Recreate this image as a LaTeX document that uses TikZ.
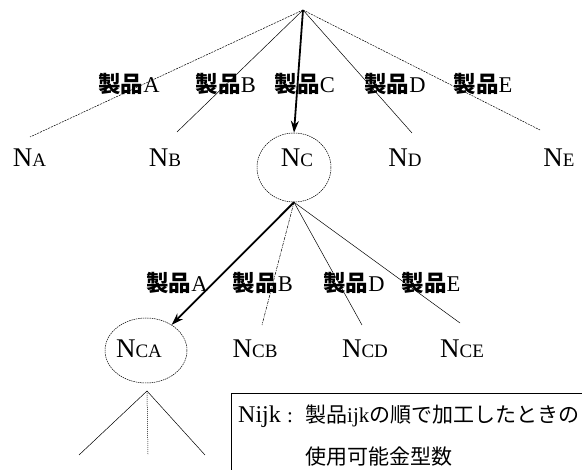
\documentclass[tikz,border=0pt]{standalone}
\usepackage{fontspec}
\setmainfont{Liberation Serif}
\newfontfamily\jp{Noto Sans CJK JP}
\usetikzlibrary{shapes.geometric,arrows.meta}
\newcommand{\Nlab}[1]{{\fontsize{27}{27}\selectfont N}{\fontsize{19}{19}\selectfont #1}}
\newcommand{\Plab}[1]{{\fontsize{22.5}{22.5}\selectfont{\jp\bfseries 製品}#1}}
\tikzset{
  nlabel/.style={anchor=base, inner sep=0pt},
  plabel/.style={anchor=base, inner sep=0pt},
  thinsolid/.style={line width=0.5pt},
  thindash/.style={line width=0.5pt, dash pattern=on 2pt off 1pt},
  thindot/.style={line width=0.5pt, dash pattern=on 1pt off 1pt},
  thindashdot/.style={line width=0.5pt, dash pattern=on 3pt off 1pt on 1pt off 1pt},
  ring/.style={ellipse, draw, line width=0.5pt, dash pattern=on 1.5pt off 0.8pt, inner sep=0pt},
  boldarrow/.style={line width=1.8pt, -{Stealth[length=12pt,width=8pt]}},
  legtext/.style={anchor=base west, inner sep=0pt}
}
\begin{document}
\begin{tikzpicture}[x=1pt,y=-1pt]
\useasboundingbox (0,0) rectangle (582,470);
% level 0
\coordinate (root) at (303,10);
% level 1 labels
\node[plabel] (lA) at (129,93) {\Plab{A}};
\node[plabel] (lB) at (226,93) {\Plab{B}};
\node[plabel] (lC) at (305,93) {\Plab{C}};
\node[plabel] (lD) at (395,93) {\Plab{D}};
\node[plabel] (lE) at (483,93) {\Plab{E}};
% level 1 nodes
\node[nlabel] (NA) at (29.5,167) {\Nlab{A}};
\node[nlabel] (NB) at (165,167) {\Nlab{B}};
\node[nlabel] (NC) at (297,167) {\Nlab{C}};
\node[nlabel] (ND) at (405,167) {\Nlab{D}};
\node[nlabel] (NE) at (559,167) {\Nlab{E}};
\node[ring, minimum width=74pt, minimum height=69pt] (NCc) at (294,167.5) {};
\coordinate (eA) at (30,137);
\coordinate (eB) at (177,132);
\coordinate (eD) at (412,133);
\coordinate (eE) at (540,130);
\draw[thindash] (root) -- (eA);
\draw[thinsolid] (root) -- (eB);
\draw[thinsolid] (root) -- (eD);
\draw[thindash] (root) -- (eE);
\draw[boldarrow] (root) -- (NCc.north);
% level 2 labels
\node[plabel] (mA) at (177,292) {\Plab{A}};
\node[plabel] (mB) at (263,292) {\Plab{B}};
\node[plabel] (mD) at (354,292) {\Plab{D}};
\node[plabel] (mE) at (431,292) {\Plab{E}};
% level 2 nodes
\node[nlabel] (NCA) at (139,358) {\Nlab{CA}};
\node[nlabel] (NCB) at (255,358) {\Nlab{CB}};
\node[nlabel] (NCD) at (365,358) {\Nlab{CD}};
\node[nlabel] (NCE) at (462,358) {\Nlab{CE}};
\node[ring, minimum width=82pt, minimum height=65pt] (NCAc) at (146,350.5) {};
\coordinate (eCB) at (262,325);
\coordinate (eCD) at (362,325);
\coordinate (eCE) at (460,323);
\draw[thindashdot] (NCc.south) -- (eCB);
\draw[thinsolid] (NCc.south) -- (eCD);
\draw[thinsolid] (NCc.south) -- (eCE);
\draw[boldarrow] (NCc.south) -- (NCAc);
% level 3 stubs
\coordinate (br) at (147,391);
\coordinate (f1) at (79,455);
\coordinate (f2) at (148,455);
\coordinate (f3) at (205,455);
\draw[thinsolid] (br) -- (f1);
\draw[thindot] (br) -- (f2);
\draw[thinsolid] (br) -- (f3);
% legend
\coordinate (boxBL) at (231.5,471);
\coordinate (boxTR) at (583,393.5);
\draw[line width=0.6pt] (boxBL) |- (boxTR);
\node[legtext] (legN) at (238,423) {\fontsize{24}{24}\selectfont Nijk};
\node[legtext] (legC) at (287,423) {\fontsize{21}{21}\selectfont :};
\node[legtext] (leg1) at (305,423) {\fontsize{21}{21}\selectfont{\jp 製品}ijk{\jp の順で加工したときの}};
\node[legtext] (leg2) at (305,465) {\fontsize{21}{21}\selectfont\jp 使用可能金型数};
\end{tikzpicture}
\end{document}
